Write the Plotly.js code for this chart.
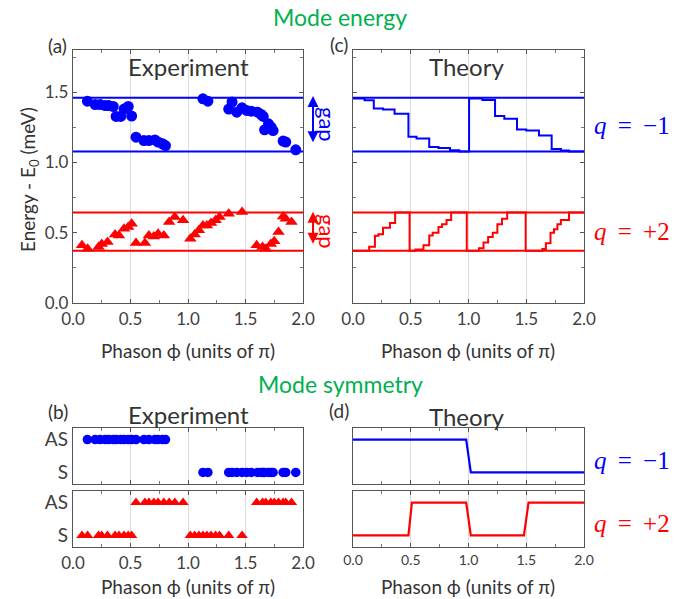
<!DOCTYPE html>
<html>
<head>
<meta charset="utf-8">
<script src="https://cdn.plot.ly/plotly-3.0.1.min.js"></script>
<style>html,body{margin:0;padding:0;background:#fff;}#chart{width:690px;height:599px;}</style>
</head>
<body>
<div id="chart"></div>
<script>
// ---- Data ----
const xTicks = [0, 0.5, 1, 1.5, 2];
const xTickText = ['0.0', '0.5', '1.0', '1.5', '2.0'];
const yTicks = [0, 0.5, 1, 1.5];
const yTickText = ['0.0', '0.5', '1.0', '1.5'];
const symCategories = ['S', 'AS'];

// Experiment (a): q = -1 mode (blue circles)
const blueX = [0.125,0.193,0.236,0.28,0.31,0.35,0.375,0.415,0.444,0.48,0.51,0.548,0.617,0.66,0.712,0.74,0.778,0.804,
               1.13,1.173,1.354,1.383,1.424,1.47,1.51,1.55,1.605,1.637,1.654,1.666,1.70,1.723,1.74,1.827,1.85,1.937];
const blueE = [1.436,1.412,1.412,1.405,1.405,1.398,1.327,1.327,1.38,1.398,1.33,1.18,1.156,1.156,1.16,1.145,1.133,1.12,
               1.453,1.436,1.38,1.43,1.358,1.389,1.37,1.365,1.358,1.341,1.327,1.232,1.275,1.251,1.227,1.152,1.145,1.09];
const blueSym = ['AS','AS','AS','AS','AS','AS','AS','AS','AS','AS','AS','AS','AS','AS','AS','AS','AS','AS',
                 'S','S','S','S','S','S','S','S','S','S','S','S','S','S','S','S','S','S'];

// Experiment (a): q = +2 mode (red triangles)
const redX = [0.078,0.127,0.222,0.25,0.30,0.366,0.40,0.444,0.48,0.51,
              0.548,0.625,0.66,0.703,0.74,0.79,0.836,0.885,0.957,
              1.02,1.058,1.095,1.13,1.164,1.20,1.24,1.274,1.354,1.47,
              1.597,1.648,1.677,1.72,1.75,1.787,1.827,1.85,1.90];
const redE = [0.41,0.386,0.398,0.42,0.434,0.488,0.48,0.528,0.54,0.564,
              0.427,0.427,0.48,0.474,0.493,0.481,0.576,0.611,0.588,
              0.457,0.488,0.517,0.552,0.552,0.569,0.588,0.611,0.635,0.647,
              0.41,0.398,0.386,0.42,0.44,0.505,0.616,0.6,0.576];
const redSym = ['S','S','S','S','S','S','S','S','S','S',
                'AS','AS','AS','AS','AS','AS','AS','AS','AS',
                'S','S','S','S','S','S','S','S','S','S',
                'AS','AS','AS','AS','AS','AS','AS','AS','AS'];

// Band edges (gap lines)
const bandX = [0, 2];
const blueTop = [1.46, 1.46], blueBot = [1.077, 1.077];
const redTop = [0.643, 0.643], redBot = [0.372, 0.372];

// Theory (c): staircases
const thBlueX = [0,0.10,0.18,0.26,0.36,0.48,0.55,0.66,0.74,0.84,0.92,1.005,1.005,1.12,1.23,1.31,1.42,1.50,1.61,1.72,1.80,1.87,2.0];
const thBlueE = [1.455,1.443,1.383,1.377,1.346,1.182,1.17,1.11,1.102,1.086,1.077,1.077,1.455,1.445,1.33,1.31,1.235,1.228,1.192,1.095,1.085,1.077,1.077];
const thRedX = [0,0.14,0.19,0.22,0.26,0.32,0.365,0.49,0.49,0.54,0.61,0.66,0.69,0.74,0.77,0.81,0.85,0.985,0.985,1.09,1.13,1.17,1.21,1.25,1.29,1.335,1.495,1.495,1.64,1.67,1.71,1.74,1.77,1.80,1.87,2.0];
const thRedE = [0.372,0.40,0.478,0.49,0.535,0.57,0.643,0.643,0.372,0.38,0.41,0.48,0.50,0.54,0.56,0.59,0.643,0.643,0.372,0.39,0.43,0.47,0.50,0.56,0.60,0.643,0.643,0.372,0.385,0.425,0.50,0.525,0.56,0.59,0.643,0.643];

// Theory (d): symmetry
const thSymBlueX = [0, 0.98, 1.02, 2.0];
const thSymBlue = ['AS','AS','S','S'];
const thSymRedX = [0, 0.48, 0.51, 0.98, 1.02, 1.48, 1.52, 2.0];
const thSymRed = ['S','S','AS','AS','S','S','AS','AS'];

// ---- Styling ----
const BLUE = '#0000ff', RED = '#ff0000', GREEN = '#00b050';
const FONT = 'Lato, "Open Sans", sans-serif';
const TXT = '#333333';
const W = 690, H = 599;
const px = v => v / W, py = v => 1 - v / H;

const domA = [px(73), px(303)], domC = [px(353), px(584)];
const domTop = [py(303), py(50)];
const domSymU = [py(484), py(428)], domSymL = [py(547), py(491)];

function xax(dom, anchor, showLabels, fs) {
  return {domain: dom, anchor: anchor, range: [0, 2], tickmode: 'array', tickvals: xTicks,
    ticktext: xTickText, showticklabels: showLabels, tickfont: {family: FONT, size: fs || 17, color: '#404040'},
    ticks: 'inside', ticklen: 4, tickcolor: '#555', showline: true, linecolor: '#555', linewidth: 1.2,
    mirror: 'ticks', showgrid: true, gridcolor: '#dcdcdc', gridwidth: 1, zeroline: false,
    minor: {dtick: 0.25, tick0: 0, ticks: 'inside', ticklen: 3, tickcolor: '#777', showgrid: false}};
}
function yaxE(dom, anchor, showLabels) {
  return {domain: dom, anchor: anchor, range: [0, 1.8], tickmode: 'array', tickvals: yTicks, ticktext: yTickText,
    showticklabels: showLabels, tickfont: {family: FONT, size: 17, color: '#404040'},
    ticks: 'inside', ticklen: 4, tickcolor: '#555', showline: true, linecolor: '#555', linewidth: 1.2,
    mirror: 'ticks', showgrid: false, zeroline: false,
    minor: {dtick: 0.25, tick0: 0, ticks: 'inside', ticklen: 3, tickcolor: '#777', showgrid: false}};
}
function yaxS(dom, anchor, showLabels) {
  return {domain: dom, anchor: anchor, type: 'category', categoryorder: 'array', categoryarray: symCategories,
    range: [-0.35, 1.35], showticklabels: showLabels, tickfont: {family: FONT, size: 19, color: '#404040'},
    ticks: '', showline: true, linecolor: '#555', linewidth: 1.2, mirror: true, showgrid: false, zeroline: false};
}

const traces = [
  // (a)
  {x: bandX, y: blueTop, xaxis: 'x', yaxis: 'y', mode: 'lines', line: {color: BLUE, width: 2}},
  {x: bandX, y: blueBot, xaxis: 'x', yaxis: 'y', mode: 'lines', line: {color: BLUE, width: 2}},
  {x: bandX, y: redTop, xaxis: 'x', yaxis: 'y', mode: 'lines', line: {color: RED, width: 2}},
  {x: bandX, y: redBot, xaxis: 'x', yaxis: 'y', mode: 'lines', line: {color: RED, width: 2}},
  {x: blueX, y: blueE, xaxis: 'x', yaxis: 'y', mode: 'markers', marker: {color: BLUE, size: 11, symbol: 'circle'}},
  {x: redX, y: redE, xaxis: 'x', yaxis: 'y', mode: 'markers', marker: {color: RED, size: 11, symbol: 'triangle-up'}},
  // (c)
  {x: bandX, y: blueTop, xaxis: 'x2', yaxis: 'y2', mode: 'lines', line: {color: BLUE, width: 2}},
  {x: bandX, y: blueBot, xaxis: 'x2', yaxis: 'y2', mode: 'lines', line: {color: BLUE, width: 2}},
  {x: bandX, y: redTop, xaxis: 'x2', yaxis: 'y2', mode: 'lines', line: {color: RED, width: 2}},
  {x: bandX, y: redBot, xaxis: 'x2', yaxis: 'y2', mode: 'lines', line: {color: RED, width: 2}},
  {x: thBlueX, y: thBlueE, xaxis: 'x2', yaxis: 'y2', mode: 'lines', line: {color: BLUE, width: 2, shape: 'hv'}},
  {x: thRedX, y: thRedE, xaxis: 'x2', yaxis: 'y2', mode: 'lines', line: {color: RED, width: 2, shape: 'hv'}},
  // (b)
  {x: blueX, y: blueSym, xaxis: 'x3', yaxis: 'y3', mode: 'markers', marker: {color: BLUE, size: 9.5, symbol: 'circle'}},
  {x: redX, y: redSym, xaxis: 'x4', yaxis: 'y4', mode: 'markers', marker: {color: RED, size: 10, symbol: 'triangle-up'}},
  // (d)
  {x: thSymBlueX, y: thSymBlue, xaxis: 'x5', yaxis: 'y5', mode: 'lines', line: {color: BLUE, width: 2.2}},
  {x: thSymRedX, y: thSymRed, xaxis: 'x6', yaxis: 'y6', mode: 'lines', line: {color: RED, width: 2.2}}
];

function txt(text, x, y, size, color, extra) {
  return Object.assign({text: text, xref: 'paper', yref: 'paper', x: px(x), y: py(y), showarrow: false,
    xanchor: 'center', yanchor: 'middle', font: {family: FONT, size: size, color: color || TXT}}, extra || {});
}
const SERIF = '"Liberation Serif", "DejaVu Serif", serif';
const SP = '\u00a0\u2009';
function qlab(text, x, y, color) {
  return {text: text, xref: 'paper', yref: 'paper', x: px(x), y: py(y), showarrow: false,
    xanchor: 'left', yanchor: 'middle', font: {family: SERIF, size: 25, color: color}};
}

const annotations = [
  txt('Mode energy', 340, 17, 23, GREEN),
  txt('Mode symmetry', 340, 384, 23, GREEN),
  txt('(a)', 57, 45, 19),
  txt('(c)', 339, 44, 19),
  txt('(b)', 58, 411, 19),
  txt('(d)', 339, 410, 19),
  txt('Experiment', 188, 66, 24),
  txt('Theory', 466, 66, 24),
  txt('Experiment', 188, 414, 24),
  txt('Theory', 466, 416, 24),
  txt('Phason ϕ (units of π)', 188, 350, 19),
  txt('Phason ϕ (units of π)', 468, 350, 19),
  txt('Phason ϕ (units of π)', 188, 586, 19),
  txt('Phason ϕ (units of π)', 468, 586, 19),
  txt('Energy - E<sub>0</sub> (meV)', 29, 180, 19, TXT, {textangle: -90}),
  txt('gap', 328, 124, 22, BLUE, {textangle: 90}),
  txt('gap', 328, 231, 22, RED, {textangle: 90}),
  qlab('<i>q</i>' + SP + '=' + SP + '−1', 592, 125, BLUE),
  qlab('<i>q</i>' + SP + '=' + SP + '+2', 592, 231, RED),
  qlab('<i>q</i>' + SP + '=' + SP + '−1', 592, 460, BLUE),
  qlab('<i>q</i>' + SP + '=' + SP + '+2', 592, 523, RED),
  // gap arrows
  {text: ' ', xref: 'paper', yref: 'y', x: px(313), y: 1.472, ax: 0, ay: (1.472 - 1.08) * 140.7,
   showarrow: true, arrowside: 'end+start', arrowhead: 2, arrowsize: 1.1, arrowwidth: 2, arrowcolor: BLUE, standoff: 0, startstandoff: 0},
  {text: ' ', xref: 'paper', yref: 'y', x: px(313), y: 0.65, ax: 0, ay: (0.65 - 0.357) * 140.7,
   showarrow: true, arrowside: 'end+start', arrowhead: 2, arrowsize: 1.1, arrowwidth: 2, arrowcolor: RED, standoff: 0, startstandoff: 0}
];

const layout = {
  width: W, height: H, margin: {l: 0, r: 0, t: 0, b: 0}, showlegend: false,
  paper_bgcolor: '#ffffff', plot_bgcolor: '#ffffff', font: {family: FONT, color: TXT},
  xaxis: xax(domA, 'y', true), yaxis: yaxE(domTop, 'x', true),
  xaxis2: xax(domC, 'y2', true), yaxis2: yaxE(domTop, 'x2', false),
  xaxis3: xax(domA, 'y3', false), yaxis3: yaxS(domSymU, 'x3', true),
  xaxis4: xax(domA, 'y4', true), yaxis4: yaxS(domSymL, 'x4', true),
  xaxis5: xax(domC, 'y5', false), yaxis5: yaxS(domSymU, 'x5', false),
  xaxis6: xax(domC, 'y6', true, 14), yaxis6: yaxS(domSymL, 'x6', false),
  annotations: annotations
};

Plotly.newPlot('chart', traces, layout, {displayModeBar: false, staticPlot: true});
</script>
</body>
</html>
